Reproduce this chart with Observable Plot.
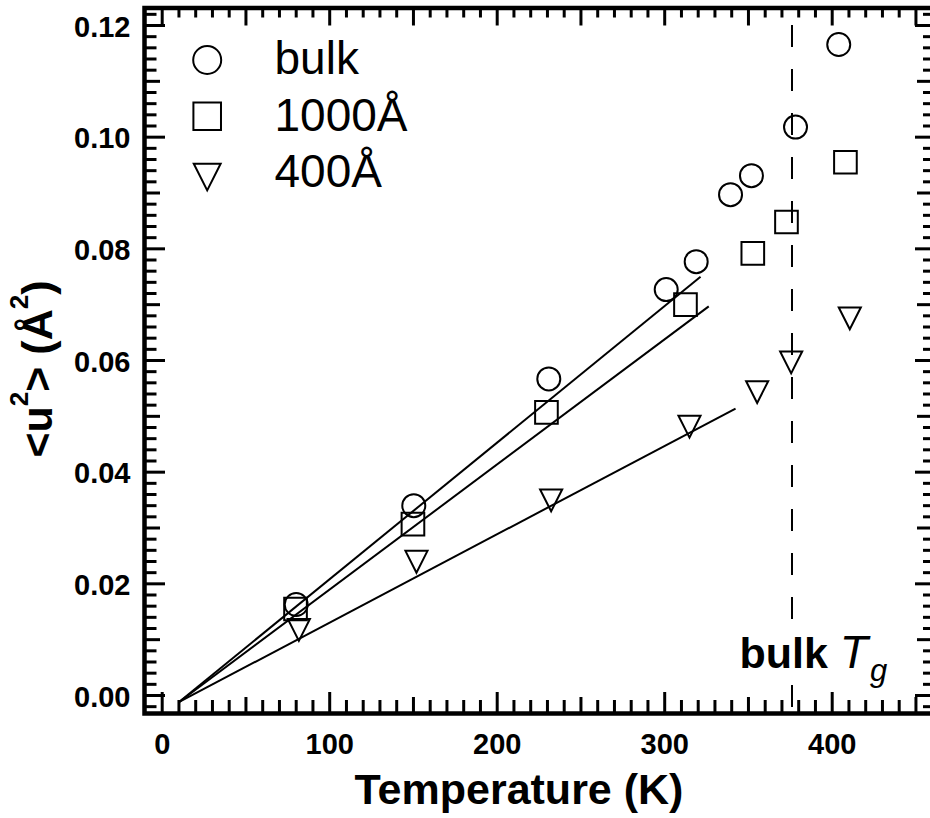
<!DOCTYPE html>
<html>
<head>
<meta charset="utf-8">
<script src="https://cdn.jsdelivr.net/npm/d3@7"></script>
<script src="https://cdn.jsdelivr.net/npm/@observablehq/plot@0.6"></script>
<style>
  html, body { margin: 0; padding: 0; background: #fff; overflow: hidden; }
  svg { display: block; overflow: hidden !important; max-width: none !important; }
</style>
</head>
<body>
<div id="chart"></div>
<script>
// ---- data ----
const seriesNames = ["bulk", "1000Å", "400Å"];
const bulkT = [80.0, 150.2, 230.8, 300.9, 318.8, 339.3, 351.8, 378.1, 403.9];
const bulkU = [0.0163, 0.0340, 0.0567, 0.0727, 0.0777, 0.0897, 0.0931, 0.1018, 0.1166];
const film1000T = [79.6, 149.7, 229.4, 312.4, 352.6, 372.7, 407.9];
const film1000U = [0.0155, 0.0307, 0.0507, 0.0700, 0.0792, 0.0848, 0.0955];
const film400T = [81.6, 151.8, 232.2, 314.8, 355.2, 375.5, 410.5];
const film400U = [0.0124, 0.0246, 0.0356, 0.0488, 0.0550, 0.0603, 0.0682];
// linear fits (start / end points)
const fitT0 = [9.9, 9.9, 9.9];
const fitU0 = [-0.0012, -0.0012, -0.0012];
const fitT1 = [321.4, 326.3, 342.3];
const fitU1 = [0.0750, 0.0697, 0.0514];
const bulkTg = 376;
const xTickLabels = [0, 100, 200, 300, 400];
const yTickLabels = [0.00, 0.02, 0.04, 0.06, 0.08, 0.10, 0.12];
const xLabel = "Temperature (K)";
const yLabel = "<u²> (Å²)";
const tgLabel = "bulk Tg";

// ---- layout ----
const W = 930, H = 818;
const mL = 144, mR = -4, mT = 7.5, mB = 105;
const plotW = W - mR - mL;   // 790
const plotH = H - mB - mT;   // 705.5

// custom hollow symbols
const squareSym = {draw(ctx, size) { const r = Math.sqrt(size / Math.PI); const h = r * 0.985; ctx.rect(-h, -h, 2 * h, 2 * h); }};
const triDownSym = {draw(ctx, size) {
  const r = Math.sqrt(size / Math.PI); const w = r * 0.96, h = r * 1.9;
  ctx.moveTo(-w, -h / 3); ctx.lineTo(w, -h / 3); ctx.lineTo(0, 2 * h / 3); ctx.closePath();
}};
const symbols = ["circle", squareSym, triDownSym];

const series = [
  bulkT.map((t, i) => ({t, u: bulkU[i]})),
  film1000T.map((t, i) => ({t, u: film1000U[i]})),
  film400T.map((t, i) => ({t, u: film400U[i]}))
];
const fits = seriesNames.map((n, i) => ({n, x1: fitT0[i], y1: fitU0[i], x2: fitT1[i], y2: fitU1[i]}));

// tick positions
const xt = d3.range(0, 451, 10);
const xMaj = xt.filter(v => v % 100 === 0);
const xMid = xt.filter(v => v % 100 !== 0 && v % 50 === 0);
const xMin = xt.filter(v => v % 50 !== 0);
const yk = d3.range(-2, 123, 2);
const yMaj = yk.filter(k => k % 20 === 0).map(k => k / 1000);
const yMid = yk.filter(k => k % 20 !== 0 && k % 10 === 0).map(k => k / 1000);
const yMin = yk.filter(k => k % 10 !== 0).map(k => k / 1000);

const tk = {stroke: "black", strokeWidth: 3};
const ticks = [
  // bottom
  Plot.tickX(xMaj, {x: d => d, insetTop: plotH - 21, ...tk}),
  Plot.tickX(xMid, {x: d => d, insetTop: plotH - 16, ...tk}),
  Plot.tickX(xMin, {x: d => d, insetTop: plotH - 13, ...tk}),
  // top
  Plot.tickX(xMaj.concat(xMid), {x: d => d, insetBottom: plotH - 18, ...tk}),
  Plot.tickX(xMin, {x: d => d, insetBottom: plotH - 10, ...tk}),
  // left
  Plot.tickY(yMaj, {y: d => d, insetRight: plotW - 21, ...tk}),
  Plot.tickY(yMid, {y: d => d, insetRight: plotW - 16, ...tk}),
  Plot.tickY(yMin, {y: d => d, insetRight: plotW - 12.5, ...tk}),
  // right
  Plot.tickY(yMaj, {y: d => d, insetLeft: plotW - 19, ...tk}),
  Plot.tickY(yMid, {y: d => d, insetLeft: plotW - 17, ...tk}),
  Plot.tickY(yMin, {y: d => d, insetLeft: plotW - 11, ...tk})
];

const legendMarks = seriesNames.flatMap((name, i) => [
  Plot.dot([0], {frameAnchor: "top-left", dx: 206.7 - mL, dy: 59.5 + i * 56.3 - mT, r: 14,
    symbol: symbols[i], stroke: "black", strokeWidth: 2, fill: "none"}),
  Plot.text([name], {frameAnchor: "top-left", dx: 274 - mL, dy: 73.3 + i * 56.7 - mT, text: d => d,
    textAnchor: "start", lineAnchor: "bottom", fontSize: 46, fill: "black"})
]);

const svg = Plot.plot({
  width: W, height: H,
  marginLeft: mL, marginRight: mR, marginTop: mT, marginBottom: mB,
  style: {fontFamily: "'Liberation Sans', Arial, Helvetica, sans-serif", background: "white", color: "black"},
  x: {domain: [(mL - 161.7) / 1.675, (W - mR - 161.7) / 1.675], axis: null},
  y: {domain: [-18 / 5583.3, 0.12 + 17.5 / 5583.3], axis: null},
  marks: [
    // bulk Tg dashed line
    Plot.ruleX([bulkTg], {x: d => d, y1: 0.12, y2: -0.00215, stroke: "black", strokeWidth: 2, strokeDasharray: "22,22"}),
    // fit lines
    Plot.link(fits, {x1: "x1", y1: "y1", x2: "x2", y2: "y2", stroke: "black", strokeWidth: 2}),
    // data
    ...series.map((d, i) => Plot.dot(d, {x: "t", y: "u", r: 11.5, symbol: symbols[i], stroke: "black", strokeWidth: 2, fill: "none"})),
    // legend
    ...legendMarks,
    // bulk Tg label (white halo hides dashed line behind it)
    Plot.text([tgLabel], {frameAnchor: "bottom-left", dx: 739 - mL, dy: 667 - (H - mB), text: d => d,
      textAnchor: "start", lineAnchor: "bottom", fontSize: 43, fontWeight: "bold", fill: "black",
      stroke: "white", strokeWidth: 14, paintOrder: "stroke"}),
    // tick labels
    Plot.text(yTickLabels, {y: d => d, frameAnchor: "left", dx: -14, dy: 2, text: d => d3.format(".2f")(d),
      textAnchor: "end", lineAnchor: "middle", fontSize: 29, fontWeight: "bold", fill: "black"}),
    Plot.text(xTickLabels, {x: d => d, frameAnchor: "bottom", dy: 40, text: d => String(d),
      textAnchor: "middle", lineAnchor: "bottom", fontSize: 29, fontWeight: "bold", fill: "black"}),
    // axis titles
    Plot.text([xLabel], {frameAnchor: "bottom-left", dx: 354 - mL, dy: 803 - (H - mB), text: d => d,
      textAnchor: "start", lineAnchor: "bottom", fontSize: 43, fontWeight: "bold", fill: "black"}),
    Plot.text([yLabel], {frameAnchor: "left", dx: 51 - mL, dy: 368.5 - (mT + plotH / 2), rotate: -90, text: d => d,
      textAnchor: "middle", lineAnchor: "bottom", fontSize: 43, fontWeight: "bold", fill: "black"}),
    ...ticks,
    Plot.frame({stroke: "black", strokeWidth: 4.5})
  ]
});
document.getElementById("chart").append(svg);

// rich text: superscripts / italic subscript
svg.querySelectorAll("text").forEach(t => {
  if (t.textContent === yLabel) {
    const s = d3.select(t); s.text(null);
    s.append("tspan").text("<u");
    s.append("tspan").attr("font-size", 26).attr("dy", -24).text("2");
    s.append("tspan").attr("dy", 24).text("> (Å");
    s.append("tspan").attr("font-size", 26).attr("dy", -24).text("2");
    s.append("tspan").attr("dy", 24).text(")");
  } else if (t.textContent === tgLabel) {
    const s = d3.select(t); s.text(null);
    s.append("tspan").text("bulk ");
    s.append("tspan").attr("font-style", "italic").attr("font-weight", "normal").attr("font-size", 46).attr("dx", 0).text("T");
    s.append("tspan").attr("font-style", "italic").attr("font-weight", "normal").attr("font-size", 31).attr("dx", 2).attr("dy", 13).text("g");
  }
});
</script>
</body>
</html>
